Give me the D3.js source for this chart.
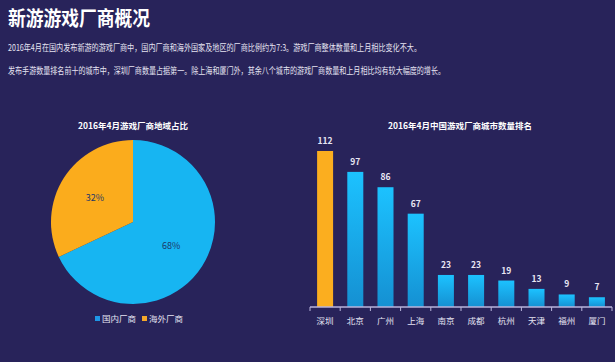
<!DOCTYPE html>
<html>
<head>
<meta charset="utf-8">
<script src="https://cdn.jsdelivr.net/npm/d3@7"></script>
<style>
  html, body { margin: 0; padding: 0; background: #28235a; }
  svg { display: block; font-family: "Noto Sans CJK SC", "Noto Sans", sans-serif; }
</style>
</head>
<body>
<div id="chart"></div>
<script>
var w = 615,
	h = 362;

// data
var pieLabels = ["国内厂商", "海外厂商"];
var pieValues = [68, 32];
var cities = ["深圳", "北京", "广州", "上海", "南京", "成都", "杭州", "天津", "福州", "厦门"];
var cityCounts = [112, 97, 86, 67, 23, 23, 19, 13, 9, 7];

var mainTitle = "新游游戏厂商概况";
var notes = [
	"2016年4月在国内发布新游的游戏厂商中，国内厂商和海外国家及地区的厂商比例约为7:3。游戏厂商整体数量和上月相比变化不大。",
	"发布手游数量排名前十的城市中，深圳厂商数量占据第一。除上海和厦门外，其余八个城市的游戏厂商数量和上月相比均有较大幅度的增长。"
];
var noteWidths = [413, 437];
var pieTitle = "2016年4月游戏厂商地域占比";
var barTitle = "2016年4月中国游戏厂商城市数量排名";

var svg = d3.select("#chart")
	.append("svg")
	.attr("width", w)
	.attr("height", h);

svg.append("rect").attr("width", w).attr("height", h).attr("fill", "#28235a");

var defs = svg.append("defs");
var grad = defs.append("linearGradient")
	.attr("id", "barBlue")
	.attr("x1", 0).attr("y1", 0).attr("x2", 0).attr("y2", 1);
grad.append("stop").attr("offset", "0%").attr("stop-color", "#1cc2ff");
grad.append("stop").attr("offset", "100%").attr("stop-color", "#1590d2");

// header
svg.append("text")
	.attr("x", 8).attr("y", 26)
	.attr("fill", "#ffffff")
	.attr("textLength", 142)
	.attr("lengthAdjust", "spacingAndGlyphs")
	.style("font-size", "20px")
	.style("font-weight", "bold")
	.text(mainTitle);

svg.selectAll("text.note").data(notes).enter().append("text")
	.attr("class", "note")
	.attr("x", 8)
	.attr("y", function(d, i) { return 51 + i * 23; })
	.attr("fill", "#e6e4f2")
	.attr("textLength", function(d, i) { return noteWidths[i]; })
	.attr("lengthAdjust", "spacingAndGlyphs")
	.style("font-size", "9px")
	.text(function(d) { return d; });

// pie
var cx = 133, cy = 222, r = 82;
var pieColors = ["#17b5f2", "#fbac1c"];
var legendColors = ["#1e96e6", "#f5a82a"];

var pie = d3.pie().sort(null).value(function(d) { return d; });
var arc = d3.arc().innerRadius(0).outerRadius(r);
var labelArc = d3.arc().innerRadius(r * 0.55).outerRadius(r * 0.55);

var gPie = svg.append("g").attr("transform", `translate(${cx}, ${cy})`);
var arcs = pie(pieValues);

gPie.selectAll("path").data(arcs).enter().append("path")
	.attr("d", arc)
	.attr("fill", function(d, i) { return pieColors[i]; });

gPie.selectAll("text").data(arcs).enter().append("text")
	.attr("transform", function(d) { return `translate(${labelArc.centroid(d)})`; })
	.attr("text-anchor", "middle")
	.attr("dy", "0.35em")
	.attr("fill", "#1d3768")
	.style("font-size", "9px")
	.text(function(d) { return d.data + "%"; });

svg.append("text")
	.attr("x", cx).attr("y", 129)
	.attr("text-anchor", "middle")
	.attr("fill", "#ffffff")
	.style("font-size", "8.5px")
	.style("font-weight", "bold")
	.text(pieTitle);

var legend = svg.append("g").attr("transform", "translate(95, 319)");
var lg = legend.selectAll("g").data(pieLabels).enter().append("g")
	.attr("transform", function(d, i) { return `translate(${i * 47}, 0)`; });
lg.append("rect")
	.attr("x", 0).attr("y", -3)
	.attr("width", 5).attr("height", 5)
	.attr("fill", function(d, i) { return legendColors[i]; });
lg.append("text")
	.attr("x", 7).attr("y", 3)
	.attr("fill", "#e6e4f2")
	.style("font-size", "8.5px")
	.text(function(d) { return d; });

// bars
var baseY = 307;
var x = d3.scaleBand()
	.domain(cities)
	.range([310, 612])
	.paddingInner(0.47)
	.paddingOuter(0.235);

var y = d3.scaleLinear()
	.domain([0, 112])
	.range([baseY, 151]);

svg.append("text")
	.attr("x", 460).attr("y", 129)
	.attr("text-anchor", "middle")
	.attr("fill", "#ffffff")
	.style("font-size", "8.5px")
	.style("font-weight", "bold")
	.text(barTitle);

svg.selectAll("rect.bar").data(cityCounts).enter().append("rect")
	.attr("class", "bar")
	.attr("x", function(d, i) { return x(cities[i]); })
	.attr("y", function(d) { return y(d); })
	.attr("width", x.bandwidth())
	.attr("height", function(d) { return baseY - y(d); })
	.attr("fill", function(d, i) { return i == 0 ? "#fbae1f" : "url(#barBlue)"; });

svg.selectAll("text.val").data(cityCounts).enter().append("text")
	.attr("class", "val")
	.attr("x", function(d, i) { return x(cities[i]) + x.bandwidth() / 2; })
	.attr("y", function(d) { return y(d) - 7; })
	.attr("text-anchor", "middle")
	.attr("fill", "#e8e6f4")
	.style("font-size", "8.5px")
	.style("font-weight", "bold")
	.text(function(d) { return d; });

// axis
var gAxis = svg.append("g").attr("transform", `translate(0, ${baseY})`);
gAxis.append("line")
	.attr("x1", 310).attr("x2", 612)
	.attr("stroke", "#b9b5dc").attr("stroke-width", 1.5);
var step = x.step();
var bounds = d3.range(cities.length + 1).map(function(i) { return 310 + i * step; });
gAxis.selectAll("line.tick").data(bounds).enter().append("line")
	.attr("class", "tick")
	.attr("x1", function(d) { return d; }).attr("x2", function(d) { return d; })
	.attr("y1", 0).attr("y2", 4)
	.attr("stroke", "#b9b5dc");
gAxis.selectAll("text").data(cities).enter().append("text")
	.attr("x", function(d) { return x(d) + x.bandwidth() / 2; })
	.attr("y", 17)
	.attr("text-anchor", "middle")
	.attr("fill", "#e6e4f2")
	.style("font-size", "8.5px")
	.text(function(d) { return d; });
</script>
</body>
</html>
